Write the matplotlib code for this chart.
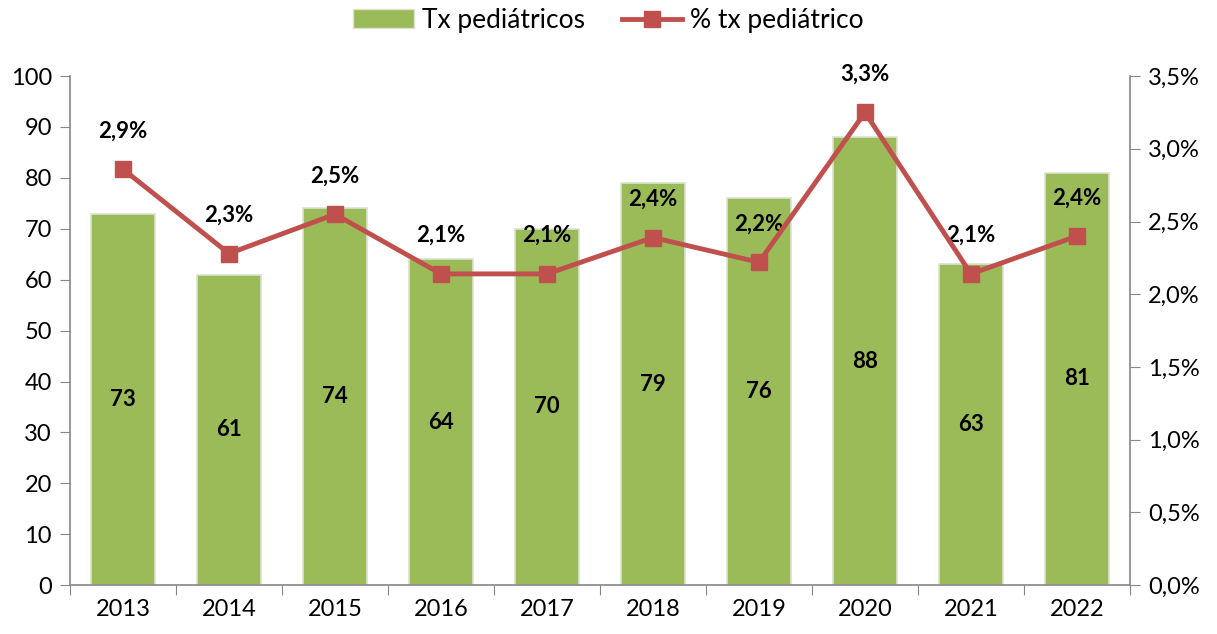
import numpy as np
import matplotlib.pyplot as plt
from matplotlib.lines import Line2D
from matplotlib.patches import Patch

plt.rcParams['font.family'] = ['Lato', 'DejaVu Sans']

years = ['2013', '2014', '2015', '2016', '2017', '2018', '2019', '2020', '2021', '2022']
tx_ped = [73, 61, 74, 64, 70, 79, 76, 88, 63, 81]
pct_ped = [2.86, 2.28, 2.55, 2.14, 2.14, 2.39, 2.22, 3.25, 2.14, 2.40]
pct_labels = ['2,9%', '2,3%', '2,5%', '2,1%', '2,1%', '2,4%', '2,2%', '3,3%', '2,1%', '2,4%']

green = '#9BBB59'
red = '#C0504D'
axis_grey = '#868686'

fig = plt.figure(figsize=(12.17, 6.34), dpi=100)
ax = fig.add_axes([0.0575, 0.077, 0.871, 0.803])
x = np.arange(len(years))

ax.bar(x, tx_ped, width=0.6, color=green, edgecolor='#DCE3D0', linewidth=1.2, zorder=2)
for xi, v in zip(x, tx_ped):
    ax.text(xi, v / 2, str(v), ha='center', va='center', fontsize=16, fontweight='bold', zorder=5)

ax.set_xlim(-0.5, len(years) - 0.5)
ax.set_ylim(0, 100)
ax.set_yticks(range(0, 101, 10))
ax.set_xticks(np.arange(-0.5, len(years), 1))
ax.set_xticklabels([])
ax.set_xticks(x, minor=True)
ax.set_xticklabels(years, minor=True)
ax.tick_params(axis='x', which='major', length=7, direction='out', color=axis_grey)
ax.tick_params(axis='x', which='minor', length=0, pad=10, labelsize=17)
ax.tick_params(axis='y', length=7, direction='out', color=axis_grey, labelsize=17, pad=6)
for s in ['top', 'right']:
    ax.spines[s].set_visible(False)
for s in ['left', 'bottom']:
    ax.spines[s].set_color(axis_grey)
    ax.spines[s].set_linewidth(1.2)

ax2 = ax.twinx()
ax2.plot(x, pct_ped, color=red, linewidth=3.5, marker='s', markersize=12, zorder=4)
ax2.set_ylim(0, 3.5)
ax2.set_yticks(np.arange(0, 3.51, 0.5))
ax2.set_yticklabels([f'{v:.1f}%'.replace('.', ',') for v in np.arange(0, 3.51, 0.5)])
ax2.tick_params(axis='y', length=7, direction='out', color=axis_grey, labelsize=17, pad=6)
for s in ['top', 'left', 'bottom']:
    ax2.spines[s].set_visible(False)
ax2.spines['right'].set_color(axis_grey)
ax2.spines['right'].set_linewidth(1.2)
for xi, v, lab in zip(x, pct_ped, pct_labels):
    ax2.annotate(lab, (xi, v), textcoords='offset points', xytext=(0, 20), ha='center', va='bottom',
                 fontsize=16, fontweight='bold')

handles = [Patch(facecolor=green, edgecolor='#DCE3D0'),
           Line2D([0], [0], color=red, linewidth=3.5, marker='s', markersize=12)]
fig.legend(handles, ['Tx pediátricos', '% tx pediátrico'], loc='upper center', bbox_to_anchor=(0.5, 1.025),
           ncol=2, frameon=False, fontsize=19, handlelength=2.3, columnspacing=1.4, handletextpad=0.3)

fig.savefig('out.png', dpi=100)
